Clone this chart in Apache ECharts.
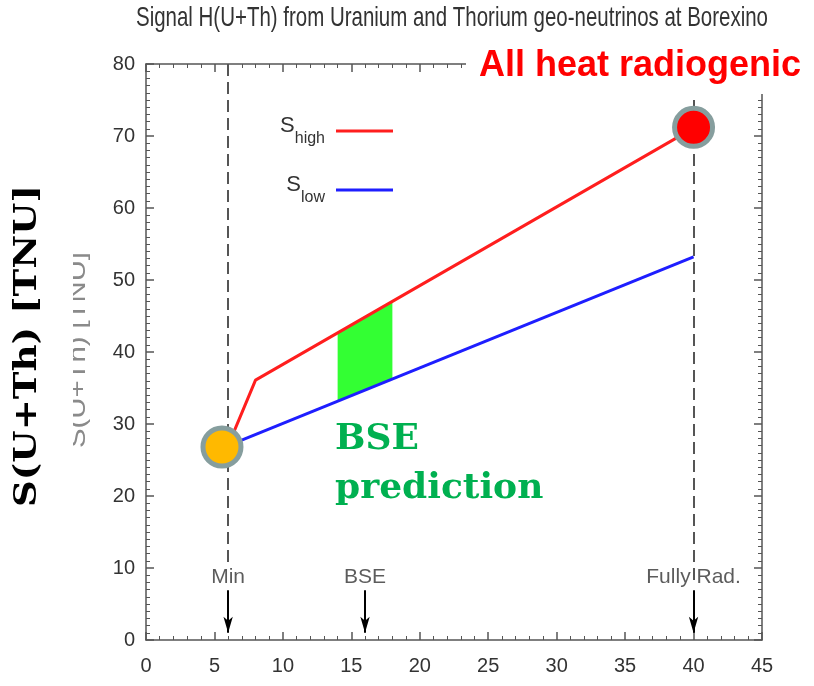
<!DOCTYPE html>
<html><head><meta charset="utf-8">
<script src="https://cdn.jsdelivr.net/npm/echarts@6/dist/echarts.min.js"></script>
<style>html,body{margin:0;padding:0;background:#fff}#c{width:814px;height:686px}</style>
</head><body><div id="c"></div>
<script>
// ---- data ----
const titleText = 'Signal H(U+Th) from Uranium and Thorium geo-neutrinos at Borexino';
const yAxisName = 'S(U+Th) [TNU]';
const sHighName = 'S_high';
const sLowName = 'S_low';
const sHigh = [[6, 27], [8, 36.1], [40, 71.1]];
const sLow = [[6, 27], [40, 53.2]];
const minPoint = [[5.55, 26.8]];
const radPoint = [[40, 71.2]];
const bandX = [14, 18];
const bandTop = [42.7, 47.1];
const bandBottom = [33.2, 36.3];
const refX = [6, 16, 40];
const refNames = ['Min', 'BSE', 'Fully Rad.'];
const refLabelY = [8.75, 8.75, 8.75];
const refDashBottom = [10.4, null, 7.6];
const arrowTop = [6.9, 6.9, 6.9];
const arrowEnd = [1.0, 1.0, 1.0];
const annoTop = 'All heat radiogenic';
const annoBse = ['BSE', 'prediction'];

// ---- chart ----
const SANS = "'Liberation Sans', Arial, sans-serif";
const SERIF = "'DejaVu Serif', serif";
const AX = '#555';
const chart = echarts.init(document.getElementById('c'), null, {renderer: 'canvas'});

const measureCtx = document.createElement('canvas').getContext('2d');
function textWidth(text, font) { measureCtx.font = font; return measureCtx.measureText(text).width; }

const titleFont = '28px ' + SANS;
const titleScale = 632 / textWidth(titleText, titleFont);
const bigFont = 'bold 31px ' + SERIF;
const bigScale = 322 / textWidth(yAxisName, bigFont);
const faintFont = '24px ' + SANS;
const faintScale = 196 / textWidth(yAxisName, faintFont);

function axisBase(extra) {
  return Object.assign({
    type: 'value',
    axisLine: {show: true, onZero: false, lineStyle: {color: AX, width: 1.5}},
    axisTick: {show: true, inside: true, length: 8, lineStyle: {color: AX, width: 1.5}},
    splitLine: {show: false},
    minorSplitLine: {show: false}
  }, extra);
}
const xLabel = {fontFamily: SANS, fontSize: 20, color: '#333', margin: 16, showMinLabel: true, showMaxLabel: true};
const yLabel = {fontFamily: SANS, fontSize: 20, color: '#333', margin: 11, showMinLabel: true, showMaxLabel: true};
const xMinor = {show: true, splitNumber: 5, length: 4, lineStyle: {color: AX, width: 1}};
const yMinor = {show: true, splitNumber: 10, length: 4, lineStyle: {color: AX, width: 1}};

const markData = [];
refX.forEach((x, i) => {
  if (refDashBottom[i] != null) {
    markData.push([
      {coord: [x, 80], symbol: 'none', lineStyle: {type: [12, 6], color: '#555', width: 2}},
      {coord: [x, refDashBottom[i]], symbol: 'none'}
    ]);
  }
  markData.push([
    {coord: [x, arrowTop[i]], symbol: 'none', lineStyle: {type: 'solid', color: '#000', width: 2}},
    {coord: [x, arrowEnd[i]], symbol: 'arrow', symbolSize: [7, 16]}
  ]);
});

const legendRich = {
  s: {fontFamily: SANS, fontSize: 22, color: '#333', verticalAlign: 'top', lineHeight: 32},
  sub: {fontFamily: SANS, fontSize: 16, color: '#333', verticalAlign: 'bottom', lineHeight: 32}
};

const option = {
  animation: false,
  backgroundColor: '#fff',
  grid: {left: 146, right: 52, top: 64, bottom: 46, containLabel: false},
  xAxis: [
    axisBase({min: 0, max: 45, interval: 5, position: 'bottom', minorTick: xMinor, axisLabel: xLabel}),
    axisBase({min: 0, max: 45, interval: 5, position: 'top', minorTick: xMinor, axisLabel: {show: false}})
  ],
  yAxis: [
    axisBase({min: 0, max: 80, interval: 10, position: 'left', minorTick: yMinor, axisLabel: yLabel}),
    axisBase({min: 0, max: 80, interval: 10, position: 'right', minorTick: yMinor, axisLabel: {show: false}})
  ],
  legend: [
    {
      data: [{name: sHighName, icon: 'rect'}], right: 416, top: 110, align: 'right', orient: 'vertical',
      itemWidth: 57, itemHeight: 3, selectedMode: false,
      formatter: () => '{s|S}{sub|high}',
      textStyle: {padding: [0, 6, 0, 0], rich: legendRich}
    },
    {
      data: [{name: sLowName, icon: 'rect'}], right: 416, top: 169, align: 'right', orient: 'vertical',
      itemWidth: 57, itemHeight: 3, selectedMode: false,
      formatter: () => '{s|S}{sub|low}',
      textStyle: {padding: [0, 6, 0, 0], rich: legendRich}
    }
  ],
  series: [
    {
      type: 'custom', name: 'band', z: 1, silent: true,
      data: [[bandX[0], bandBottom[0]]],
      renderItem: (params, api) => {
        const pts = [
          api.coord([bandX[0], bandBottom[0]]),
          api.coord([bandX[1], bandBottom[1]]),
          api.coord([bandX[1], bandTop[1]]),
          api.coord([bandX[0], bandTop[0]])
        ];
        return {type: 'polygon', shape: {points: pts}, style: {fill: '#33ff33'}};
      }
    },
    {
      type: 'scatter', name: 'refs', z: 3, silent: true,
      data: refX.map((x, i) => [x, refLabelY[i]]),
      symbolSize: 1, itemStyle: {color: 'rgba(0,0,0,0)'},
      label: {show: true, position: 'inside', formatter: p => refNames[p.dataIndex], fontFamily: SANS, fontSize: 21, color: '#333'},
      markLine: {silent: true, symbol: ['none', 'none'], label: {show: false}, animation: false, data: markData}
    },
    {
      type: 'line', name: sLowName, data: sLow, z: 4, symbol: 'none',
      lineStyle: {color: '#1e1eff', width: 3}, itemStyle: {color: '#1e1eff'}
    },
    {
      type: 'line', name: sHighName, data: sHigh, z: 4, symbol: 'none',
      lineStyle: {color: '#ff1e1e', width: 3}, itemStyle: {color: '#ff1e1e'}
    },
    {
      type: 'scatter', name: 'minPoint', data: minPoint, z: 6, silent: true, symbolSize: 38,
      itemStyle: {color: '#FFB900', borderColor: '#869E9E', borderWidth: 5, opacity: 1}
    },
    {
      type: 'scatter', name: 'radPoint', data: radPoint, z: 6, silent: true, symbolSize: 38,
      itemStyle: {color: '#FF0000', borderColor: '#869E9E', borderWidth: 5, opacity: 1}
    }
  ],
  graphic: [
    {type: 'text', z: 5, silent: true, x: 452, y: 18, scaleX: titleScale,
      style: {text: titleText, font: titleFont, fill: '#333', align: 'center', verticalAlign: 'middle'}},
    {type: 'text', z: 1, silent: true, x: 78, y: 350, rotation: Math.PI / 2, scaleX: faintScale,
      style: {text: yAxisName, font: faintFont, fill: '#8a8a8a', align: 'center', verticalAlign: 'middle'}},
    {type: 'rect', z: 2, silent: true, shape: {x: 58, y: 240, width: 15, height: 220}, style: {fill: '#fff'}},
    {type: 'text', z: 3, silent: true, x: 28, y: 346, rotation: Math.PI / 2, scaleX: bigScale,
      style: {text: yAxisName, font: bigFont, fill: '#000', align: 'center', verticalAlign: 'middle'}},
    {type: 'rect', z: 10, silent: true, shape: {x: 466, y: 40, width: 348, height: 54}, style: {fill: '#fff'}},
    {type: 'text', z: 11, silent: true, x: 479, y: 66,
      style: {text: annoTop, font: "bold 36px " + SANS, fill: '#ff0000', align: 'left', verticalAlign: 'middle'}},
    {type: 'text', z: 11, silent: true, x: 335, y: 440,
      style: {text: annoBse[0], font: "bold 36px " + SERIF, fill: '#00B050', align: 'left', verticalAlign: 'middle'}},
    {type: 'text', z: 11, silent: true, x: 335, y: 489,
      style: {text: annoBse[1], font: "bold 36px " + SERIF, fill: '#00B050', align: 'left', verticalAlign: 'middle'}}
  ]
};
chart.setOption(option);
</script>
</body></html>
